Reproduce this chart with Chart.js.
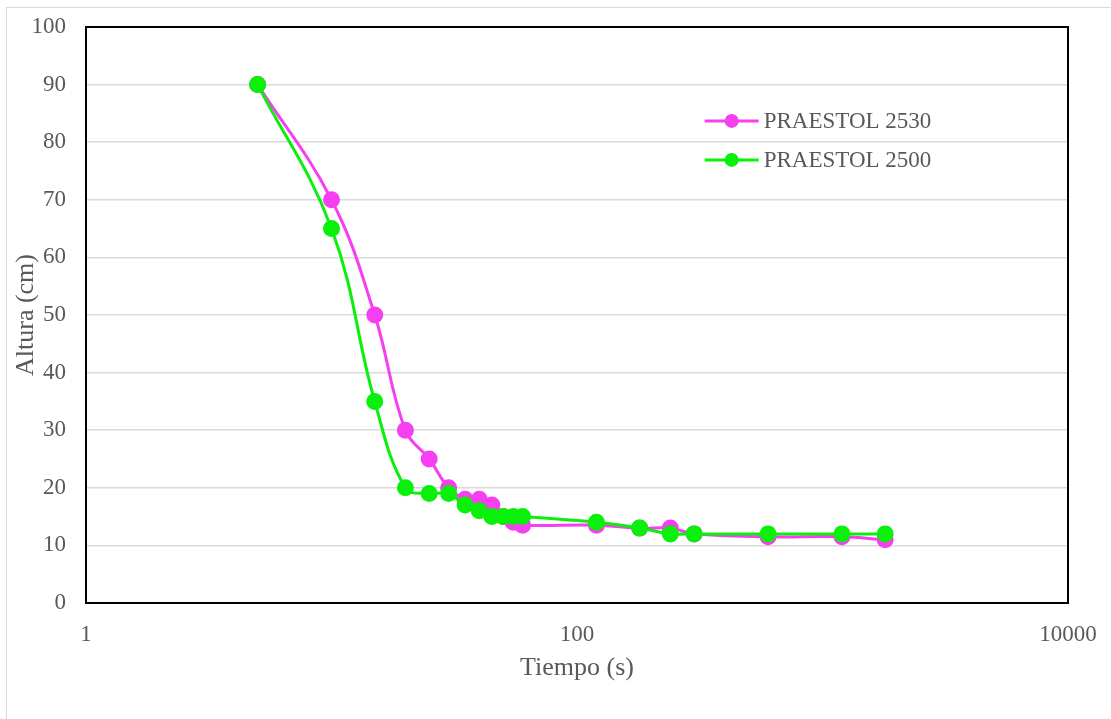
<!DOCTYPE html>
<html>
<head>
<meta charset="utf-8">
<script src="https://cdn.jsdelivr.net/npm/chart.js@4"></script>
<style>
  html, body { margin: 0; padding: 0; background: #fff; overflow: hidden; }
  #frame { position: absolute; left: 6px; top: 7px; width: 1200px; height: 800px; border: 1px solid #d9d9d9; }
  #wrap { position: absolute; left: 0; top: 0; width: 1111px; height: 719px; }
</style>
</head>
<body>
<div id="frame"></div>
<div id="wrap"><canvas id="chart"></canvas></div>
<script>
// datos
const tiempo = [5, 10, 15, 20, 25, 30, 35, 40, 45, 50, 55, 60, 120, 180, 240, 300, 600, 1200, 1800];
const praestol2530 = [90, 70, 50, 30, 25, 20, 18, 18, 17, 15, 14, 13.5, 13.5, 13, 13, 12, 11.5, 11.5, 11];
const praestol2500 = [90, 65, 35, 20, 19, 19, 17, 16, 15, 15, 15, 15, 14, 13, 12, 12, 12, 12, 12];
const xTicks = [1, 100, 10000];
const seriesNames = ['PRAESTOL 2530', 'PRAESTOL 2500'];

const FONT = 'Liberation Serif';
const GREY = '#595959';

const toPoints = ys => tiempo.map((t, i) => ({ x: t, y: ys[i] }));

// legend inside plot area, plus black frame round the plot
const boxAndLegend = {
  id: 'boxAndLegend',
  afterDraw(chart) {
    const ctx = chart.ctx;
    const a = chart.chartArea;
    ctx.save();
    ctx.lineWidth = 2;
    ctx.strokeStyle = '#000';
    ctx.strokeRect(a.left, a.top, a.right - a.left, a.bottom - a.top);

    const lx = a.left + (a.right - a.left) * 0.63;
    let ly = a.top + (a.bottom - a.top) * 0.163;
    chart.data.datasets.forEach(ds => {
      ctx.strokeStyle = ds.borderColor;
      ctx.lineWidth = 3;
      ctx.beginPath();
      ctx.moveTo(lx, ly);
      ctx.lineTo(lx + 54, ly);
      ctx.stroke();
      ctx.fillStyle = ds.borderColor;
      ctx.beginPath();
      ctx.arc(lx + 27, ly, 7, 0, Math.PI * 2);
      ctx.fill();
      ctx.fillStyle = GREY;
      ctx.font = '23px "' + FONT + '"';
      ctx.textBaseline = 'middle';
      ctx.fillText(ds.label, lx + 59, ly + 1);
      ly += 39;
    });
    ctx.restore();
  }
};

new Chart(document.getElementById('chart'), {
  type: 'line',
  data: {
    datasets: [{
      label: seriesNames[0],
      data: toPoints(praestol2530),
      borderColor: '#f53ff0',
      backgroundColor: '#f53ff0',
      borderWidth: 3,
      pointRadius: 7,
      pointHoverRadius: 7,
      tension: 0.4,
      order: 1
    }, {
      label: seriesNames[1],
      data: toPoints(praestol2500),
      borderColor: '#0af00a',
      backgroundColor: '#0af00a',
      borderWidth: 3,
      pointRadius: 7,
      pointHoverRadius: 7,
      tension: 0.4,
      order: 0
    }]
  },
  plugins: [boxAndLegend],
  options: {
    responsive: true,
    maintainAspectRatio: false,
    animation: false,
    layout: { padding: { top: 27, right: 43, left: 0, bottom: 0 } },
    plugins: {
      legend: { display: false },
      tooltip: { enabled: false }
    },
    scales: {
      x: {
        type: 'logarithmic',
        min: 1,
        max: 10000,
        afterBuildTicks: s => { s.ticks = xTicks.map(v => ({ value: v })); },
        afterFit: s => { s.height = 116; s.paddingLeft = 0; s.paddingRight = 0; },
        grid: { display: false, drawTicks: false },
        border: { display: false },
        ticks: {
          autoSkip: false,
          maxRotation: 0,
          padding: 18,
          color: GREY,
          font: { family: FONT, size: 23 },
          callback: v => String(v)
        },
        title: {
          display: true,
          text: 'Tiempo (s)',
          color: GREY,
          font: { family: FONT, size: 26 },
          padding: { top: 0, bottom: 35 }
        }
      },
      y: {
        min: 0,
        max: 100,
        afterFit: s => { s.width = 86; s.paddingTop = 0; s.paddingBottom = 0; },
        grid: { color: '#d9d9d9', lineWidth: 1.5, drawTicks: false },
        border: { display: false },
        ticks: {
          stepSize: 10,
          padding: 20,
          color: GREY,
          font: { family: FONT, size: 23 }
        },
        title: {
          display: true,
          text: 'Altura (cm)',
          color: GREY,
          font: { family: FONT, size: 26 },
          padding: { top: 11, bottom: 0 }
        }
      }
    }
  }
});
</script>
</body>
</html>
